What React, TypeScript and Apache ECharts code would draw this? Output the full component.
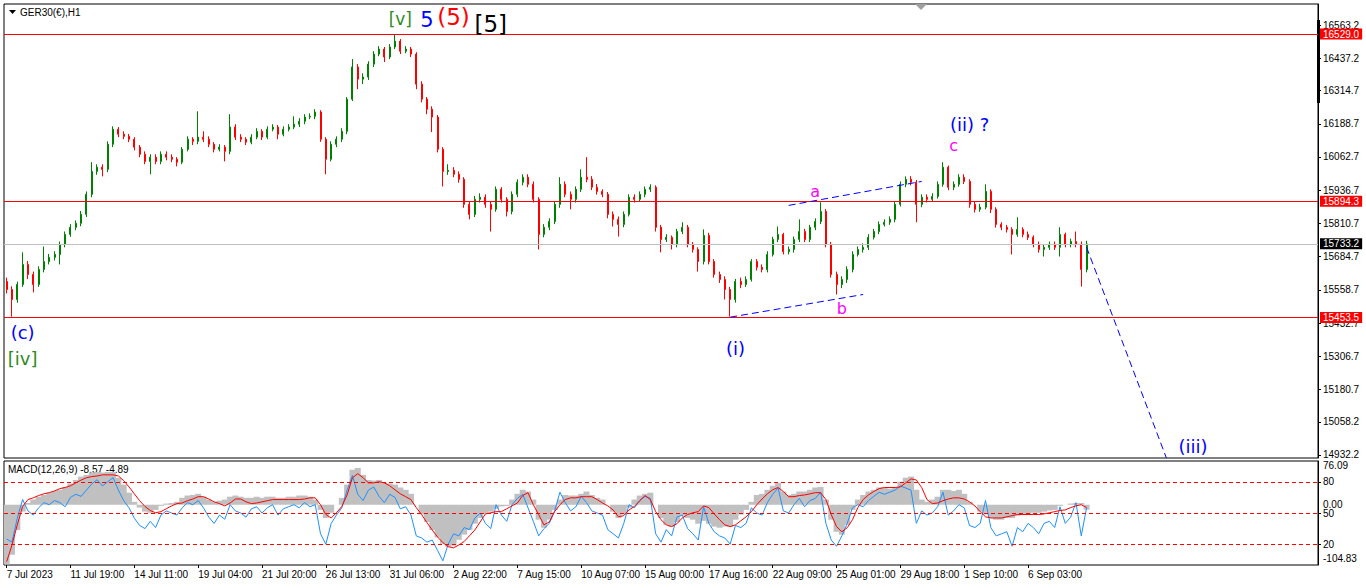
import React, { useEffect, useRef } from 'react';
import * as echarts from 'echarts';

const timeLabels = ['7 Jul 2023', '11 Jul 19:00', '14 Jul 11:00', '19 Jul 04:00', '21 Jul 20:00', '26 Jul 13:00', '31 Jul 06:00', '2 Aug 22:00', '7 Aug 15:00', '10 Aug 07:00', '15 Aug 00:00', '17 Aug 16:00', '22 Aug 09:00', '25 Aug 01:00', '29 Aug 18:00', '1 Sep 10:00', '6 Sep 03:00'];

const firstOpen = 15590;
const closes = [
  15560, 15522, 15579, 15655, 15617, 15579, 15636, 15666, 15682, 15693,
  15731, 15769, 15796, 15811, 15845, 15921, 16008, 16024, 16016, 16111,
  16168, 16149, 16141, 16130, 16100, 16073, 16046, 16062, 16046, 16073,
  16062, 16054, 16043, 16092, 16130, 16122, 16138, 16130, 16111, 16092,
  16100, 16084, 16176, 16138, 16130, 16119, 16138, 16160, 16138, 16168,
  16176, 16149, 16168, 16176, 16187, 16198, 16214, 16217, 16233, 16130,
  16054, 16111, 16130, 16160, 16282, 16404, 16358, 16366, 16415, 16453,
  16472, 16442, 16480, 16502, 16464, 16472, 16453, 16339, 16282, 16244,
  16214, 16092, 16008, 16012, 15997, 15978, 15883, 15845, 15902, 15910,
  15883, 15864, 15940, 15902, 15856, 15921, 15967, 15986, 15959, 15902,
  15769, 15796, 15818, 15883, 15959, 15921, 15902, 15940, 15986, 15978,
  15948, 15932, 15921, 15845, 15826, 15807, 15845, 15910, 15902, 15921,
  15940, 15948, 15796, 15750, 15758, 15731, 15780, 15796, 15731, 15712,
  15666, 15765, 15666, 15617, 15598, 15560, 15522, 15590, 15579, 15598,
  15666, 15644, 15636, 15693, 15750, 15769, 15704, 15712, 15750, 15780,
  15750, 15796, 15818, 15856, 15731, 15617, 15579, 15598, 15636, 15693,
  15712, 15720, 15758, 15780, 15807, 15815, 15826, 15883, 15959, 15978,
  15967, 15883, 15910, 15902, 15913, 15959, 16024, 15948, 15959, 15986,
  15970, 15883, 15864, 15872, 15932, 15864, 15807, 15796, 15788, 15769,
  15788, 15769, 15758, 15731, 15712, 15720, 15731, 15720, 15769, 15731,
  15742, 15731, 15636, 15733,
];
const highs = [
  15605, 15572, 15590, 15701, 15668, 15628, 15648, 15723, 15695, 15705,
  15742, 15780, 15808, 15822, 15858, 15932, 16043, 16035, 16035, 16122,
  16179, 16176, 16160, 16150, 16138, 16108, 16084, 16073, 16073, 16084,
  16084, 16073, 16062, 16100, 16141, 16138, 16236, 16160, 16141, 16119,
  16111, 16108, 16225, 16187, 16149, 16138, 16149, 16172, 16168, 16179,
  16187, 16184, 16179, 16187, 16217, 16210, 16225, 16228, 16244, 16240,
  16138, 16122, 16141, 16172, 16290, 16434, 16415, 16380, 16426, 16464,
  16483, 16480, 16491, 16529, 16510, 16483, 16480, 16460, 16350, 16290,
  16255, 16222, 16100, 16035, 16024, 16008, 15986, 15895, 15915, 15925,
  15921, 15895, 15951, 15948, 15910, 15932, 15978, 15997, 15997, 15970,
  15910, 15808, 15830, 15895, 15986, 15970, 15932, 15951, 16016, 16062,
  15990, 15960, 15940, 15930, 15856, 15837, 15856, 15921, 15921, 15932,
  15951, 15959, 15955, 15805, 15770, 15765, 15790, 15815, 15805, 15740,
  15720, 15788, 15775, 15675, 15628, 15610, 15570, 15600, 15605, 15610,
  15675, 15675, 15655, 15705, 15760, 15799, 15775, 15723, 15761, 15826,
  15790, 15805, 15830, 15891, 15865, 15740, 15628, 15610, 15648, 15705,
  15723, 15735, 15770, 15790, 15818, 15826, 15837, 15895, 15970, 15989,
  15990, 15975, 15921, 15921, 15925, 15970, 16043, 16030, 15970, 15997,
  15997, 15978, 15895, 15885, 15959, 15940, 15872, 15815, 15805, 15796,
  15834, 15796, 15780, 15765, 15742, 15731, 15742, 15742, 15796, 15776,
  15753, 15780, 15742, 15745,
];
const lows = [
  15545, 15457, 15510, 15570, 15600, 15549, 15570, 15625, 15655, 15670,
  15655, 15720, 15760, 15785, 15800, 15835, 15910, 15995, 15989, 16005,
  16100, 16138, 16130, 16119, 16088, 16062, 16035, 15997, 16035, 16035,
  16050, 16043, 16027, 16035, 16084, 16108, 16111, 16119, 16100, 16080,
  16084, 16046, 16073, 16127, 16119, 16108, 16111, 16130, 16127, 16130,
  16160, 16130, 16141, 16160, 16168, 16176, 16187, 16206, 16206, 16120,
  15997, 16046, 16100, 16119, 16149, 16275, 16320, 16339, 16355, 16404,
  16445, 16423, 16434, 16472, 16453, 16456, 16442, 16320, 16270, 16225,
  16157, 16080, 15951, 15995, 15986, 15965, 15870, 15826, 15835, 15890,
  15870, 15780, 15855, 15890, 15837, 15845, 15910, 15955, 15948, 15890,
  15712, 15758, 15785, 15808, 15870, 15910, 15864, 15890, 15930, 15967,
  15937, 15920, 15910, 15830, 15799, 15761, 15796, 15837, 15890, 15895,
  15910, 15930, 15780, 15701, 15740, 15712, 15720, 15770, 15720, 15700,
  15628, 15655, 15655, 15605, 15585, 15522, 15457, 15510, 15565, 15570,
  15590, 15632, 15625, 15625, 15685, 15740, 15693, 15693, 15700, 15740,
  15740, 15740, 15785, 15808, 15720, 15605, 15541, 15565, 15585, 15625,
  15685, 15700, 15710, 15750, 15770, 15799, 15805, 15815, 15875, 15948,
  15955, 15815, 15872, 15890, 15895, 15905, 15950, 15937, 15937, 15950,
  15960, 15870, 15852, 15855, 15864, 15850, 15795, 15785, 15776, 15693,
  15760, 15758, 15748, 15720, 15700, 15685, 15710, 15710, 15685, 15720,
  15720, 15720, 15571, 15625,
];

const macdHist = [
  -104, -87, -44, -12, 3, 9, 14, 17, 21, 24,
  26, 31, 37, 43, 49, 52, 56, 57, 56, 57,
  57, 47, 35, 21, 5, -5, -12, -14, -9, -2,
  2, 3, 5, 12, 16, 17, 19, 14, 9, 5,
  7, 9, 14, 16, 14, 12, 12, 14, 12, 14,
  14, 12, 12, 14, 14, 16, 16, 14, 9, -9,
  -23, -14, 0, 12, 35, 61, 64, 52, 43, 42,
  43, 38, 37, 35, 30, 26, 19, 0, -17, -30,
  -44, -57, -68, -73, -71, -61, -52, -44, -33, -23,
  -16, -12, -7, -3, -2, 9, 19, 26, 23, 9,
  -26, -40, -26, -9, 9, 17, 16, 16, 19, 23,
  17, 12, 9, 0, -12, -23, -17, -5, 9, 16,
  19, 21, 0, -23, -35, -38, -30, -19, -23, -26,
  -33, -28, -33, -38, -40, -38, -38, -26, -17, -9,
  5, 17, 19, 26, 33, 38, 23, 17, 19, 23,
  23, 26, 30, 31, 9, -26, -47, -52, -35, -9,
  9, 17, 23, 26, 30, 30, 28, 30, 40, 47,
  49, 26, 9, 5, 9, 14, 26, 26, 24, 26,
  19, 5, 0, -12, -17, -23, -26, -26, -23, -23,
  -19, -17, -16, -14, -14, -12, -10, -9, -2, 0,
  2, 3, 3, -8.57,
];
const macdSignal = [
  -99, -70, -35, -3, 9, 12, 16, 19, 21, 24,
  28, 30, 33, 38, 43, 47, 49, 50, 52, 52,
  52, 50, 42, 31, 19, 7, -3, -10, -14, -12,
  -7, -2, 2, 3, 7, 10, 14, 14, 10, 5,
  2, -2, 3, 10, 10, 5, 2, 3, 5, 7,
  9, 9, 9, 9, 9, 9, 10, 12, 12, 0,
  -17, -23, -14, -3, 17, 47, 54, 47, 38, 38,
  40, 38, 33, 26, 19, 14, 9, -5, -17, -31,
  -44, -56, -66, -73, -75, -70, -64, -54, -44, -30,
  -16, -14, -12, -12, -7, -2, 3, 16, 21, 0,
  -17, -35, -30, -12, 0, 9, 12, 12, 14, 14,
  14, 9, 3, -2, -9, -21, -19, -9, -3, 7,
  16, 9, -12, -26, -35, -38, -33, -23, -17, -14,
  -12, -2, -5, -16, -26, -35, -38, -35, -28, -21,
  -12, 0, 10, 19, 26, 30, 23, 14, 14, 16,
  17, 19, 21, 21, 9, -17, -38, -47, -40, -26,
  -5, 9, 17, 23, 28, 30, 30, 30, 31, 38,
  45, 43, 30, 9, 2, 3, 7, 10, 12, 12,
  10, 5, -2, -12, -21, -23, -23, -23, -21, -19,
  -17, -17, -17, -17, -17, -16, -14, -12, -10, -9,
  -5, -2, 0, -4.89,
];
const oscLine = [
  25, 22, 45, 63, 52, 48, 55, 60, 58, 62,
  60, 56, 65, 68, 66, 72, 78, 82, 76, 80,
  84, 72, 62, 55, 45, 38, 35, 42, 36, 48,
  52, 50, 48, 55, 60, 58, 62, 55, 46, 40,
  48, 44, 58, 52, 50, 46, 54, 56, 50, 55,
  58, 48, 54, 56, 58, 55, 60, 56, 58, 30,
  20, 40, 48, 55, 72, 86, 68, 62, 72, 75,
  66, 60, 68, 65, 54, 56, 48, 28, 26, 22,
  24, 14, 4, 20, 30, 28, 36, 34, 45, 50,
  40, 35, 58, 48, 42, 58, 64, 68, 55, 42,
  28, 35, 40, 52, 70, 60, 52, 56, 66, 60,
  52, 50, 48, 34, 30, 26, 40, 58, 55, 62,
  66, 64, 30, 22, 34, 28, 46, 48, 35, 30,
  24, 56, 40, 32, 28, 26, 20, 38, 36, 40,
  55, 50, 48, 60, 68, 74, 52, 50, 58, 64,
  56, 62, 64, 70, 40, 24, 18, 28, 40, 55,
  58, 56, 62, 66, 70, 68, 70, 72, 76, 74,
  72, 40, 52, 48, 50, 56, 70, 48, 52, 58,
  55, 38, 36, 40, 62, 36, 28, 30, 32, 18,
  36, 32, 40, 36, 30, 40, 42, 36, 56, 40,
  46, 60, 28, 55,
];

const priceTicks = [16563.2, 16437.2, 16314.7, 16188.7, 16062.7, 15936.7, 15810.7, 15684.7, 15558.7, 15432.7, 15306.7, 15180.7, 15058.2, 14932.2];
const oscLevels = [20, 50, 80];
const macdTicks = [-104.83, 0, 76.09];

const levelLines = [
  { value: 16529.0, line: '#ff0000', tag: '#ff0000' },
  { value: 15894.3, line: '#ff0000', tag: '#ff0000' },
  { value: 15453.5, line: '#ff0000', tag: '#ff0000' },
  { value: 15733.2, line: '#c0c0c0', tag: '#000000' },
];

const trendLines = [
  { i1: 136, p1: 15455, i2: 161, p2: 15541 },
  { i1: 147, p1: 15879, i2: 172, p2: 15970 },
  { i1: 203, p1: 15720, i2: 218, p2: 14921 },
];

const waveLabels = [
  { text: '[v]', idx: 74, price: 16586, color: '#2e8b22', size: 17 },
  { text: '5', idx: 79, price: 16582, color: '#0000ff', size: 21 },
  { text: '(5)', idx: 84, price: 16594, color: '#ff0000', size: 23 },
  { text: '[5]', idx: 91, price: 16567, color: '#000000', size: 23 },
  { text: '(c)', idx: 3, price: 15397, color: '#0000ff', size: 18 },
  { text: '[iv]', idx: 3, price: 15298, color: '#2e8b22', size: 18 },
  { text: '(i)', idx: 137, price: 15336, color: '#0000ff', size: 18 },
  { text: 'a', idx: 152, price: 15932, color: '#ff00ff', size: 16 },
  { text: 'b', idx: 157, price: 15488, color: '#ff00ff', size: 16 },
  { text: 'c', idx: 178, price: 16107, color: '#ff00ff', size: 16 },
  { text: '(ii) ?', idx: 181, price: 16187, color: '#0000ff', size: 18 },
  { text: '(iii)', idx: 223, price: 14963, color: '#0000ff', size: 18 },
];

const SLOTS = 247;
const LABEL_STEP = 12;
const FONT = '"Liberation Sans", Arial, sans-serif';
const WAVE_FONT = '"DejaVu Sans", Verdana, sans-serif';

export default function App() {
  const ref = useRef<HTMLDivElement>(null);
  useEffect(() => {
    document.body.style.margin = '0';
    const chart = echarts.init(ref.current as HTMLDivElement, null, { renderer: 'svg' });
    const cats = Array.from({ length: SLOTS }, (_, i) => String(i));
    const candles = closes.map((c, i) => [i === 0 ? firstOpen : closes[i - 1], c, lows[i], highs[i]]);
    const isLabelIdx = (idx: number) => idx % LABEL_STEP === 0 && idx / LABEL_STEP < timeLabels.length;

    const levelData = levelLines.map((l) => ({
      yAxis: l.value,
      lineStyle: { color: l.line, type: 'solid', width: 1 },
      label: {
        show: true, position: 'end', distance: 2, formatter: l.value.toFixed(1),
        color: '#ffffff', backgroundColor: l.tag, padding: [1, 3, 0, 3], fontSize: 10, fontFamily: FONT,
      },
    }));
    const trendData = trendLines.map((t) => [
      { coord: [t.i1, t.p1], lineStyle: { color: '#0000ff', type: [7, 4], width: 1 }, label: { show: false } },
      { coord: [t.i2, t.p2] },
    ]);

    const option: any = {
      animation: false,
      backgroundColor: '#ffffff',
      grid: [
        { left: 4, top: 4, width: 1314, height: 454, show: true, borderColor: '#000', borderWidth: 1, backgroundColor: '#fff' },
        { left: 4, top: 461, width: 1314, height: 104, show: true, borderColor: '#000', borderWidth: 1, backgroundColor: '#fff' },
      ],
      xAxis: [
        { gridIndex: 0, type: 'category', data: cats, boundaryGap: true, show: false },
        {
          gridIndex: 1, type: 'category', data: cats, boundaryGap: true,
          axisLine: { show: false },
          axisTick: { show: true, alignWithLabel: true, interval: (idx: number) => isLabelIdx(idx), length: 3, lineStyle: { color: '#000' } },
          axisLabel: {
            interval: (idx: number) => isLabelIdx(idx),
            formatter: (_v: string, idx: number) => (isLabelIdx(idx) ? timeLabels[idx / LABEL_STEP] : ''),
            align: 'left', margin: 4, fontSize: 10, color: '#000', fontFamily: FONT,
          },
          splitLine: { show: false },
        },
      ],
      yAxis: [
        {
          gridIndex: 0, type: 'value', position: 'right', min: 14920.8, max: 16643.0,
          splitLine: { show: false },
          axisLine: { show: true, lineStyle: { color: '#000' } },
          axisTick: { show: true, customValues: priceTicks, length: 3, lineStyle: { color: '#000' } },
          axisLabel: { customValues: priceTicks, formatter: (v: number) => v.toFixed(1), fontSize: 10, color: '#000', margin: 5, fontFamily: FONT },
        },
        {
          gridIndex: 1, type: 'value', position: 'right', min: 0, max: 100,
          splitLine: { show: false },
          axisLine: { show: true, lineStyle: { color: '#000' } },
          axisTick: { show: true, customValues: oscLevels, length: 3, lineStyle: { color: '#000' } },
          axisLabel: { customValues: oscLevels, formatter: (v: number) => String(v), fontSize: 10, color: '#000', margin: 5, fontFamily: FONT },
        },
        {
          gridIndex: 1, type: 'value', position: 'right', min: -104.83, max: 76.09,
          splitLine: { show: false },
          axisLine: { show: false },
          axisTick: { show: false },
          axisLabel: {
            customValues: macdTicks,
            formatter: (v: number) => (v > 50 ? '{t|' + v.toFixed(2) + '}' : v < -50 ? '{b|' + v.toFixed(2) + '}' : '{m|' + v.toFixed(2) + '}'),
            rich: {
              t: { padding: [9, 0, 0, 0], fontSize: 10, color: '#000', fontFamily: FONT },
              b: { padding: [0, 0, 14, 0], fontSize: 10, color: '#000', fontFamily: FONT },
              m: { fontSize: 10, color: '#000', fontFamily: FONT },
            },
            fontSize: 10, color: '#000', margin: 5, fontFamily: FONT,
          },
        },
      ],
      series: [
        {
          type: 'candlestick', xAxisIndex: 0, yAxisIndex: 0, data: candles, barWidth: 1.5,
          itemStyle: { color: '#008000', color0: '#ff0000', borderColor: '#008000', borderColor0: '#ff0000', borderWidth: 1 },
          markLine: { symbol: ['none', 'none'], silent: true, animation: false, data: [...levelData, ...trendData] },
          markPoint: {
            silent: true, animation: false,
            data: waveLabels.map((w) => ({
              coord: [w.idx, w.price], symbol: 'circle', symbolSize: 1, itemStyle: { color: 'rgba(0,0,0,0)' },
              label: { show: true, position: 'inside', formatter: w.text, color: w.color, fontSize: w.size, fontFamily: WAVE_FONT },
            })),
          },
        },
        {
          type: 'bar', xAxisIndex: 1, yAxisIndex: 2, data: macdHist, barWidth: 6,
          itemStyle: { color: '#c0c0c0' },
        },
        {
          type: 'line', xAxisIndex: 1, yAxisIndex: 1, data: oscLine, symbol: 'none',
          lineStyle: { color: '#1e90ff', width: 1 },
          markLine: {
            symbol: ['none', 'none'], silent: true, animation: false,
            lineStyle: { color: '#ff0000', type: [4, 3], width: 1 },
            label: { show: false },
            data: oscLevels.map((v) => ({ yAxis: v })),
          },
        },
        {
          type: 'line', xAxisIndex: 1, yAxisIndex: 2, data: macdSignal, symbol: 'none',
          lineStyle: { color: '#ff0000', width: 1 },
        },
      ],
      graphic: [
        { type: 'polygon', shape: { points: [[9, 10], [16, 10], [12.5, 14]] }, style: { fill: '#000' } },
        { type: 'text', left: 20, top: 7, style: { text: 'GER30(€),H1', fontSize: 10, fill: '#000', fontFamily: FONT } },
        { type: 'text', left: 8, top: 464, style: { text: 'MACD(12,26,9) -8.57 -4.89', fontSize: 10, fill: '#000', fontFamily: FONT } },
        { type: 'rect', shape: { x: 1317, y: 20, width: 3, height: 83 }, style: { fill: '#000' } },
        { type: 'polygon', shape: { points: [[915, 4], [927, 4], [921, 10]] }, style: { fill: '#a0a0a0' } },
      ],
    };
    chart.setOption(option);
    return () => chart.dispose();
  }, []);
  return <div ref={ref} style={{ width: 1366, height: 588 }} />;
}
